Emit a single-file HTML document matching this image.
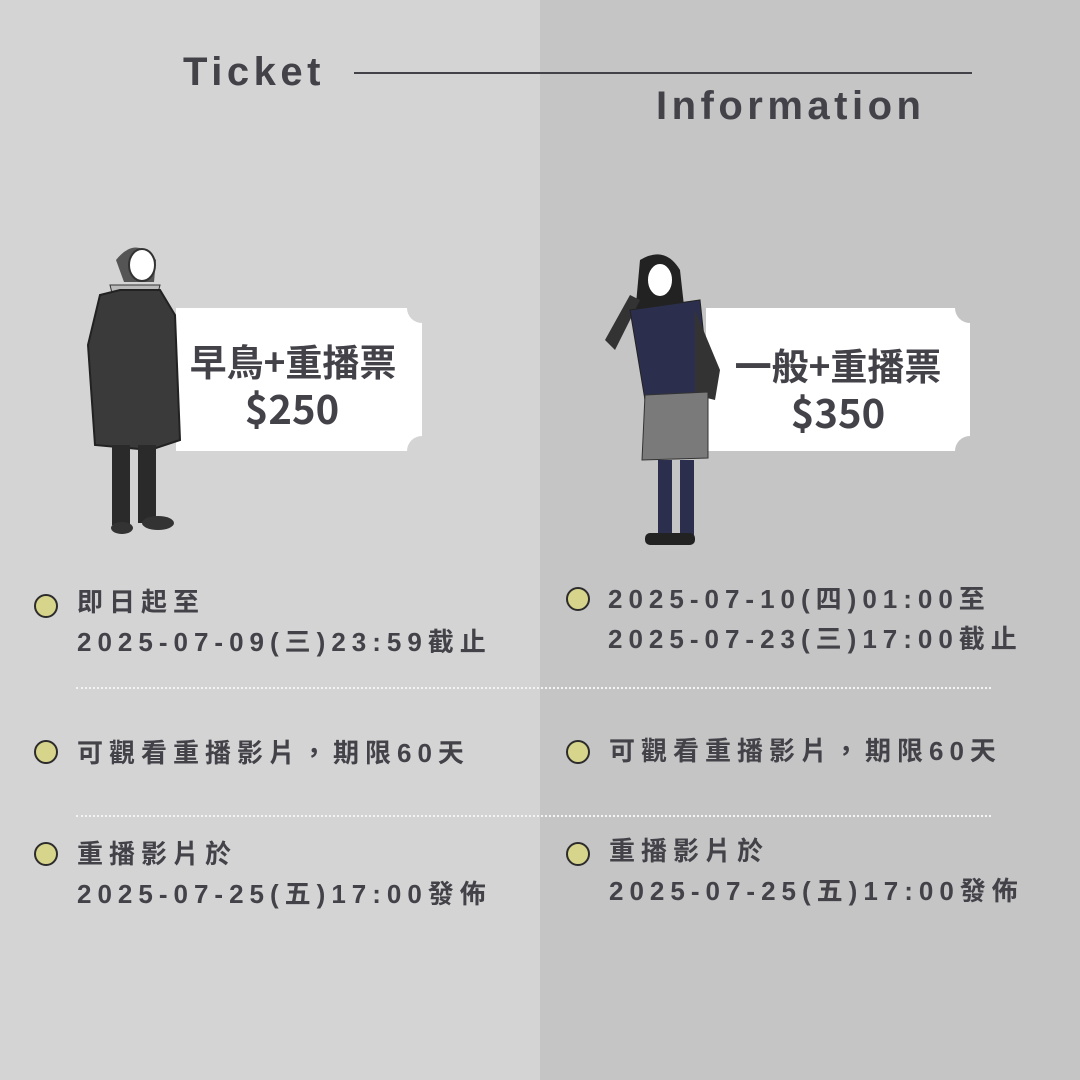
<!DOCTYPE html>
<html><head><meta charset="utf-8"><style>
body{margin:0}
#c{position:relative;width:1080px;height:1080px;background:#d4d4d4;overflow:hidden;font-family:"Liberation Sans","Noto Sans CJK TC",sans-serif;color:#434249}
.r{position:absolute;left:540px;top:0;width:540px;height:1080px;background:#c5c5c5}
.t{position:absolute;font-weight:bold;font-size:26px;letter-spacing:6px;line-height:40px;white-space:nowrap}
.b{position:absolute;width:20px;height:20px;border-radius:50%;background:#d7d48c;border:2.5px solid #2c2c2c}
.dot{position:absolute;left:76px;width:915px;border-top:2px dotted #f4f4f4}
.tk{position:absolute;background:#fff;text-align:center;font-weight:bold;font-family:"Noto Sans CJK TC",sans-serif}
.n{position:absolute;width:30px;height:30px;border-radius:50%}
</style></head><body><div id="c">
<div class="r"></div>
<div class="t" style="left:183px;top:52px;font-size:40px;letter-spacing:4.5px">Ticket</div>
<div style="position:absolute;left:354px;top:72px;width:618px;border-top:2px solid #434249"></div>
<div class="t" style="left:656px;top:86px;font-size:40px;letter-spacing:4.5px">Information</div>

<div class="tk" style="left:176px;top:308px;width:246px;height:143px">
<div style="font-size:37px;line-height:44px;margin-top:30px;color:#434249;margin-left:-12px">早鳥+重播票</div>
<div style="font-size:40px;line-height:50px;color:#434249;margin-left:-14px">$250</div>
<div class="n" style="left:231px;top:-15px;background:#d4d4d4"></div>
<div class="n" style="left:231px;top:128px;background:#d4d4d4"></div>
</div>
<div class="tk" style="left:706px;top:308px;width:264px;height:143px">
<div style="font-size:37px;line-height:44px;margin-top:34px;color:#434249">一般+重播票</div>
<div style="font-size:40px;line-height:50px;color:#434249">$350</div>
<div class="n" style="left:249px;top:-15px;background:#c5c5c5"></div>
<div class="n" style="left:249px;top:128px;background:#c5c5c5"></div>
</div>

<svg style="position:absolute;left:80px;top:235px" width="110" height="310">
<path d="M36 25 q20-25 40 0 l-2 22 h-30z" fill="#555"/>
<ellipse cx="62" cy="30" rx="13" ry="16" fill="#fff" stroke="#333" stroke-width="2"/>
<path d="M30 50 h50 l-5 20 h-40z" fill="#bbb" stroke="#333"/>
<path d="M20 60 L40 55 L80 55 L95 80 L100 205 L70 215 L15 210 L8 110z" fill="#3a3a3a" stroke="#222" stroke-width="2"/>
<rect x="32" y="210" width="18" height="80" fill="#2a2a2a"/><rect x="58" y="210" width="18" height="78" fill="#2a2a2a"/>
<ellipse cx="42" cy="293" rx="11" ry="6" fill="#333"/><ellipse cx="78" cy="288" rx="16" ry="7" fill="#333"/>
</svg>
<svg style="position:absolute;left:600px;top:250px" width="130" height="300">
<path d="M40 10 q25-15 40 10 l5 45 h-50z" fill="#222"/>
<ellipse cx="60" cy="30" rx="13" ry="17" fill="#fff" stroke="#222" stroke-width="2"/>
<path d="M5 90 l25-45 l10 5 l-25 50z" fill="#333"/>
<path d="M30 60 L100 50 L110 145 L45 150z" fill="#2b2f4d" stroke="#222"/>
<path d="M95 60 l25 60 l-5 30 l-20-5z" fill="#333"/>
<path d="M45 145 L108 142 L108 208 L42 210z" fill="#7a7a7a" stroke="#333"/>
<rect x="58" y="210" width="14" height="75" fill="#2b2f4d"/><rect x="80" y="210" width="14" height="75" fill="#2b2f4d"/>
<rect x="45" y="283" width="50" height="12" rx="5" fill="#222"/>
</svg>

<div class="b" style="left:34px;top:594px"></div>
<div class="t" style="left:77px;top:582px">即日起至<br>2025-07-09(三)23:59截止</div>
<div class="b" style="left:566px;top:587px"></div>
<div class="t" style="left:608px;top:579px">2025-07-10(四)01:00至<br>2025-07-23(三)17:00截止</div>
<div class="dot" style="top:687px"></div>
<div class="b" style="left:34px;top:740px"></div>
<div class="t" style="left:77px;top:733px">可觀看重播影片，期限60天</div>
<div class="b" style="left:566px;top:740px"></div>
<div class="t" style="left:609px;top:731px">可觀看重播影片，期限60天</div>
<div class="dot" style="top:815px"></div>
<div class="b" style="left:34px;top:842px"></div>
<div class="t" style="left:77px;top:834px">重播影片於<br>2025-07-25(五)17:00發佈</div>
<div class="b" style="left:566px;top:842px"></div>
<div class="t" style="left:609px;top:831px">重播影片於<br>2025-07-25(五)17:00發佈</div>
</div></body></html>
